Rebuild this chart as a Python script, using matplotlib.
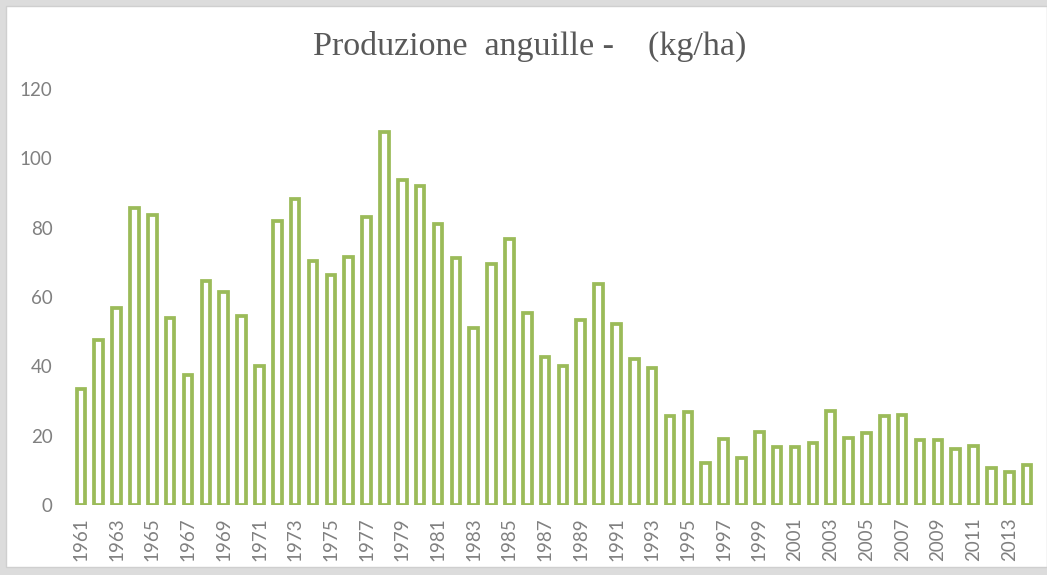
import numpy as np
import matplotlib.pyplot as plt
from matplotlib.patches import Rectangle

years = list(range(1961, 2015))
kg_ha = [33.5, 47.6, 56.8, 85.7, 83.6, 53.9, 37.5, 64.6, 61.4, 54.5,
         40.1, 81.9, 88.3, 70.4, 66.3, 71.5, 83.1, 107.6, 93.7, 92.0,
         81.0, 71.2, 51.1, 69.5, 76.7, 55.4, 42.7, 40.1, 53.4, 63.7,
         52.2, 42.1, 39.5, 25.7, 26.8, 12.1, 19.0, 13.6, 21.1, 16.7,
         16.7, 17.8, 27.2, 19.4, 20.8, 25.6, 25.9, 18.7, 18.7, 16.1,
         17.0, 10.6, 9.5, 11.5]
y_ticks = [0, 20, 40, 60, 80, 100, 120]

green = "#9BBB59"
grey_text = "#808080"

W, H = 1047, 575
fig = plt.figure(figsize=(W / 100, H / 100), dpi=100)
fig.patch.set_facecolor("#dcdcdc")
# white chart panel over the grey surround
fig.patches.append(Rectangle((6 / W, 8 / H), 1 - 6 / W, 1 - 14 / H,
                             transform=fig.transFigure, facecolor="white",
                             edgecolor="#cfcfcf", linewidth=1, zorder=-1))

ax = fig.add_axes([72 / W, 70 / H, (1036 - 72) / W, (505 - 89) / H])
ax.set_zorder(2)
ax.set_facecolor("none")
x = np.arange(len(years))
ax.bar(x, kg_ha, width=0.48, facecolor="white", edgecolor=green,
       linewidth=2.7)

ax.set_xlim(-0.5, len(years) - 0.5)
ax.set_ylim(0, 120)
ax.set_yticks(y_ticks)
ax.set_xticks(x[::2])
ax.set_xticklabels([str(y) for y in years[::2]], rotation=90)
for s in ax.spines.values():
    s.set_visible(False)
ax.tick_params(axis="both", length=0, labelsize=13.5, labelcolor=grey_text)
ax.tick_params(axis="y", pad=14)
ax.tick_params(axis="x", pad=9)
for lab in ax.get_xticklabels() + ax.get_yticklabels():
    lab.set_family("Lato")

fig.text(530 / W, 1 - 46 / H, "Produzione  anguille -    (kg/ha)",
         ha="center", va="center", fontsize=24.5, color="#595959",
         family="Liberation Serif", zorder=3)

fig.savefig("out.png", dpi=100, facecolor=fig.get_facecolor())
